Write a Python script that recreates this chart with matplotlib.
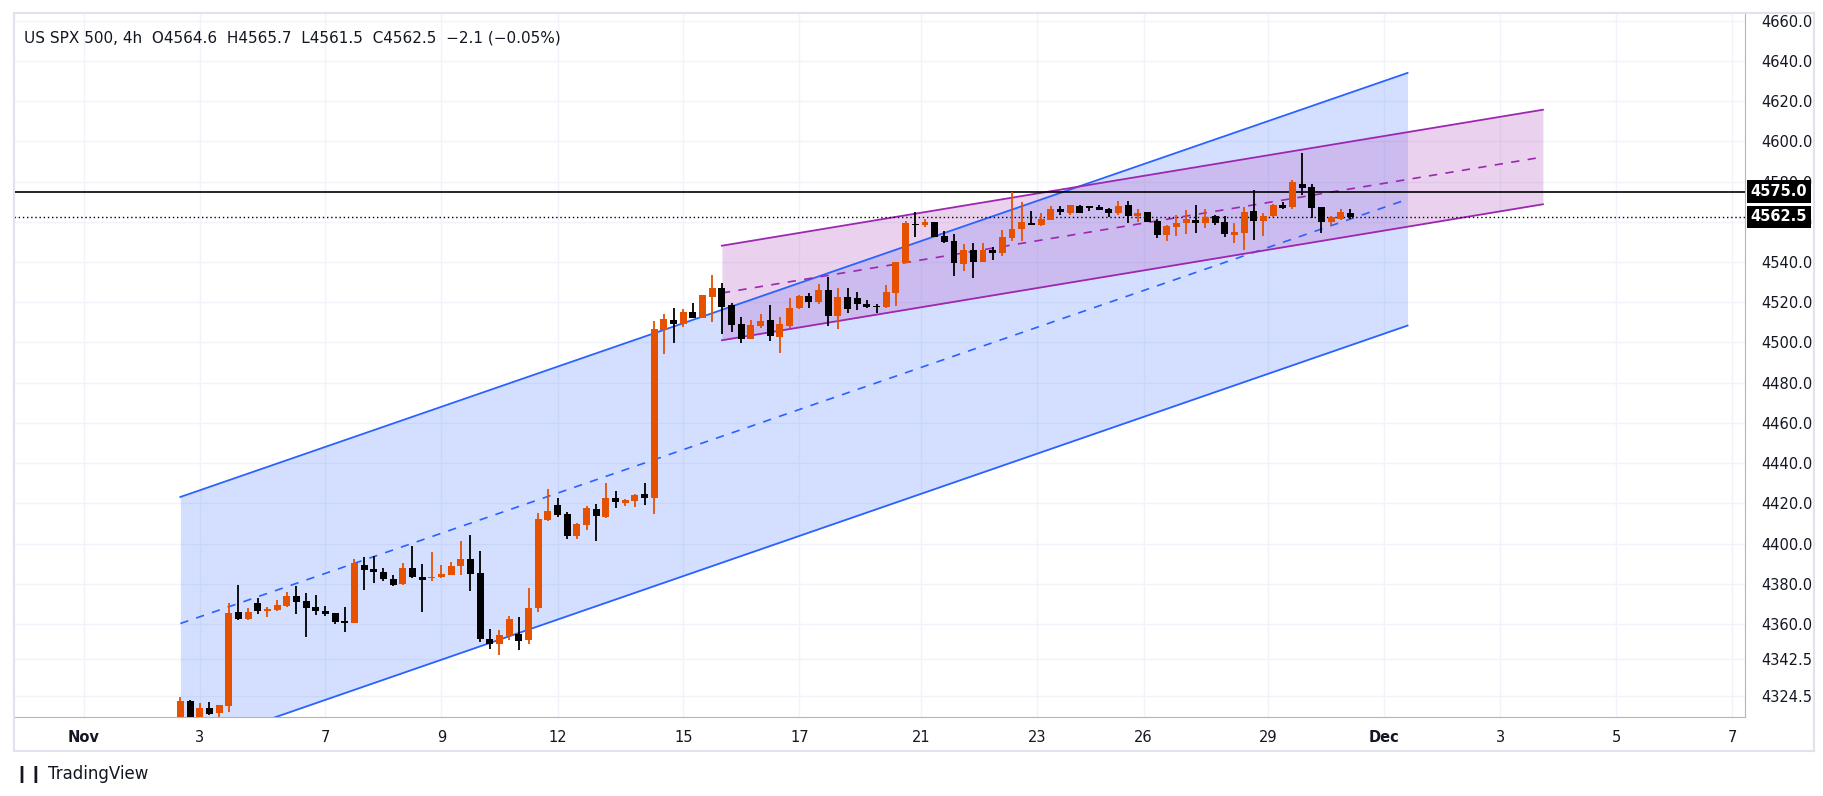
import numpy as np
import matplotlib
matplotlib.use("Agg")
from matplotlib import pyplot as plt
from matplotlib.lines import Line2D

# 4h bars, OHLC
opens = [4311.0, 4321.7, 4311.5, 4318.1, 4315.9, 4319.4, 4366.2, 4362.4, 4370.7, 4366.4,
         4367.2, 4369.0, 4374.2, 4371.7, 4368.7, 4366.7, 4365.3, 4361.4, 4360.5, 4389.5,
         4387.5, 4386.0, 4382.6, 4380.1, 4388.0, 4383.6, 4382.7, 4383.2, 4384.6, 4388.7,
         4392.5, 4385.2, 4352.5, 4350.0, 4354.1, 4355.3, 4352.1, 4367.9, 4411.8, 4419.2,
         4414.8, 4403.9, 4409.5, 4417.2, 4413.3, 4422.7, 4420.4, 4421.2, 4424.7, 4422.7,
         4506.3, 4511.3, 4509.3, 4515.2, 4512.3, 4522.7, 4527.1, 4518.7, 4509.3, 4501.9,
         4508.3, 4511.3, 4502.9, 4508.3, 4516.9, 4523.2, 4519.9, 4526.1, 4513.4, 4522.5,
         4522.0, 4519.2, 4518.2, 4517.4, 4524.8, 4539.5, 4558.8, 4558.5, 4559.8, 4552.7,
         4550.4, 4539.2, 4546.0, 4540.2, 4546.0, 4544.4, 4552.1, 4556.5, 4559.2, 4558.3,
         4561.0, 4566.2, 4564.4, 4567.9, 4567.7, 4567.2, 4566.2, 4564.4, 4568.2, 4562.9,
         4564.7, 4560.3, 4553.5, 4557.5, 4559.3, 4560.8, 4559.5, 4562.8, 4559.8, 4553.5,
         4554.5, 4565.2, 4560.5, 4562.8, 4568.2, 4567.4, 4578.9, 4577.1, 4567.2, 4559.8,
         4561.3, 4564.6]
highs = [4323.8, 4322.5, 4320.9, 4321.2, 4319.7, 4370.7, 4379.6, 4368.0, 4373.0, 4368.7,
         4372.2, 4376.1, 4379.1, 4375.6, 4374.7, 4369.0, 4365.6, 4368.7, 4392.5, 4393.5,
         4394.1, 4388.0, 4384.6, 4390.2, 4398.9, 4389.7, 4396.0, 4389.5, 4391.0, 4401.2,
         4404.4, 4396.4, 4357.7, 4357.0, 4364.0, 4363.4, 4377.7, 4415.1, 4427.1, 4422.7,
         4415.7, 4410.3, 4418.7, 4419.9, 4430.1, 4426.1, 4422.2, 4424.7, 4430.1, 4510.8,
         4514.3, 4517.2, 4516.7, 4519.7, 4523.7, 4533.6, 4529.6, 4519.7, 4512.8, 4511.3,
         4514.3, 4518.7, 4512.8, 4522.2, 4523.7, 4524.4, 4529.1, 4532.6, 4527.1, 4527.1,
         4525.1, 4521.2, 4519.2, 4528.6, 4540.0, 4560.5, 4564.8, 4561.3, 4560.1, 4555.2,
         4553.9, 4548.9, 4549.4, 4549.4, 4547.5, 4555.8, 4575.0, 4570.0, 4565.2, 4564.3,
         4567.7, 4567.7, 4568.2, 4568.4, 4567.7, 4568.2, 4567.0, 4570.2, 4570.2, 4566.2,
         4564.7, 4561.4, 4558.3, 4563.3, 4565.7, 4568.2, 4566.2, 4563.3, 4562.8, 4559.5,
         4567.2, 4575.6, 4564.3, 4568.7, 4569.7, 4580.6, 4594.4, 4578.9, 4567.2, 4562.8,
         4566.2, 4566.2]
lows = [4309.0, 4308.0, 4309.0, 4314.9, 4313.9, 4316.4, 4362.1, 4362.0, 4364.9, 4363.4,
        4366.4, 4368.7, 4364.9, 4353.5, 4364.4, 4363.8, 4360.1, 4356.0, 4360.3, 4376.8,
        4380.3, 4381.3, 4378.8, 4379.3, 4382.8, 4365.9, 4381.3, 4382.8, 4384.4, 4384.6,
        4376.3, 4351.0, 4347.8, 4344.5, 4352.0, 4347.0, 4350.0, 4366.0, 4411.5, 4413.3,
        4402.5, 4402.5, 4406.7, 4401.1, 4412.5, 4417.9, 4418.9, 4418.4, 4419.4, 4414.9,
        4494.1, 4499.6, 4507.5, 4512.0, 4512.0, 4510.3, 4504.4, 4505.3, 4499.9, 4501.5,
        4507.3, 4500.9, 4495.0, 4507.3, 4516.7, 4517.2, 4518.9, 4508.0, 4506.5, 4514.9,
        4515.9, 4517.2, 4514.9, 4517.2, 4518.2, 4539.5, 4552.5, 4557.3, 4552.5, 4549.4,
        4533.2, 4535.7, 4532.2, 4540.0, 4541.1, 4543.1, 4550.6, 4550.6, 4558.6, 4558.0,
        4560.8, 4563.4, 4563.4, 4564.4, 4565.2, 4565.9, 4562.4, 4563.4, 4559.5, 4559.8,
        4559.8, 4552.0, 4550.6, 4552.9, 4554.0, 4554.5, 4556.8, 4558.5, 4552.5, 4549.6,
        4546.1, 4551.0, 4553.0, 4562.5, 4566.2, 4566.2, 4573.3, 4561.8, 4554.5, 4558.0,
        4561.0, 4561.5]
closes = [4321.7, 4311.5, 4318.2, 4315.4, 4319.7, 4365.7, 4362.4, 4366.2, 4366.4, 4367.7,
          4369.7, 4374.2, 4370.9, 4367.9, 4366.4, 4364.9, 4361.0, 4360.6, 4390.2, 4386.9,
          4385.7, 4382.2, 4379.3, 4388.0, 4383.2, 4382.1, 4383.6, 4385.0, 4389.0, 4392.5,
          4384.7, 4352.5, 4349.9, 4354.6, 4362.6, 4351.6, 4368.2, 4412.4, 4416.2, 4414.3,
          4403.9, 4409.8, 4417.7, 4413.8, 4422.7, 4420.9, 4421.7, 4424.2, 4422.7, 4506.8,
          4511.8, 4509.3, 4515.2, 4512.3, 4523.7, 4527.1, 4517.7, 4508.8, 4501.9, 4508.8,
          4510.8, 4503.4, 4509.3, 4517.2, 4523.2, 4519.9, 4526.1, 4513.4, 4522.5, 4516.4,
          4518.9, 4517.4, 4517.4, 4525.1, 4540.0, 4559.5, 4558.5, 4559.8, 4552.5, 4550.1,
          4539.7, 4546.0, 4540.2, 4546.1, 4544.4, 4552.4, 4556.3, 4559.8, 4558.6, 4561.3,
          4566.2, 4564.9, 4568.2, 4564.4, 4566.9, 4565.9, 4564.4, 4567.7, 4562.9, 4564.4,
          4559.8, 4553.5, 4558.0, 4559.3, 4561.3, 4559.5, 4562.3, 4559.5, 4554.0, 4555.0,
          4564.7, 4560.5, 4562.8, 4568.2, 4566.7, 4579.6, 4576.6, 4566.7, 4559.8, 4562.3,
          4564.7, 4562.5]

# date ticks (bar index positions) and labels
date_ticks = [-10, 2, 15, 27, 39, 52, 64, 76.6, 88.6, 99.6, 112.5, 124.5, 136.5, 148.5, 160.5]
date_labels = ['Nov', '3', '7', '9', '12', '15', '17', '21', '23', '26', '29', 'Dec', '3', '5', '7']
price_ticks = [4324.5, 4342.5, 4360, 4380, 4400, 4420, 4440, 4460, 4480, 4500, 4520,
               4540, 4560, 4580, 4600, 4620, 4640, 4660]

# channels: (start idx, end idx, upper start, upper end, lower start, lower end)
blue_channel = [0, 126.9, 4423.2, 4634.0, 4297.4, 4508.4]
purple_channel = [56.0, 140.9, 4548.1, 4615.7, 4501.1, 4568.7]

resistance = 4575.0
last_price = 4562.5

UP = '#e65100'
DOWN = '#000000'
TXT = '#131722'

fig = plt.figure(figsize=(18.24, 7.96), dpi=100)
ax = fig.add_axes([0.0077, 0.0992, 0.949, 0.885])
ax.set_xlim(-17.2, 161.8)
ax.set_ylim(4313.8, 4664.0)

for t in price_ticks:
    ax.axhline(t, color='#f0f3fa', lw=1, zorder=0)
for t in date_ticks:
    ax.axvline(t, color='#f0f3fa', lw=1, zorder=0)


def draw_channel(ch, line_c, fill_c, fill_a):
    x0, x1, u0, u1, l0, l1 = ch
    xs = [x0, x1]
    up = [u0, u1]
    lo = [l0, l1]
    mid = [(u0 + l0) / 2, (u1 + l1) / 2]
    ax.fill_between(xs, lo, up, color=fill_c, alpha=fill_a, lw=0, zorder=1)
    ax.plot(xs, up, color=line_c, lw=1.3, zorder=2)
    ax.plot(xs, lo, color=line_c, lw=1.3, zorder=2)
    ax.plot(xs, mid, color=line_c, lw=1.2, ls=(0, (5, 5)), zorder=2)


draw_channel(blue_channel, '#2962ff', '#2962ff', 0.2)
draw_channel(purple_channel, '#9c27b0', '#ba68c8', 0.3)

ax.axhline(resistance, color='#000000', lw=1.2, zorder=3)
ax.axhline(last_price, color='#000000', lw=1, ls=(0, (1, 2)), zorder=3)

idx = np.arange(len(opens))
o = np.array(opens)
c = np.array(closes)
colors = [UP if cc >= oo else DOWN for oo, cc in zip(o, c)]
ax.vlines(idx, lows, highs, colors=colors, lw=1.3, zorder=4)
bottoms = np.minimum(o, c)
heights = np.maximum(np.abs(c - o), 0.6)
ax.bar(idx, heights, bottom=bottoms, width=0.72, color=colors, lw=0, zorder=5)

ax.yaxis.tick_right()
ax.set_yticks(price_ticks)
ax.set_yticklabels(['%.1f' % t for t in price_ticks], fontsize=10.5, color=TXT)
ax.set_xticks(date_ticks)
ax.set_xticklabels(date_labels, fontsize=10.5, color=TXT)
for lab in ax.get_xticklabels():
    if lab.get_text() in ('Nov', 'Dec'):
        lab.set_fontweight('bold')
ax.tick_params(axis='both', length=0, pad=9)
ax.tick_params(axis='y', pad=12)
for s in ['top', 'left']:
    ax.spines[s].set_visible(False)
for s in ['right', 'bottom']:
    ax.spines[s].set_color('#b2b5be')

for val in [resistance, last_price]:
    ax.annotate('%.1f' % val, xy=(1.0, val), xycoords=('axes fraction', 'data'),
                xytext=(4, 0), textcoords='offset points', ha='left', va='center',
                fontsize=10.5, fontweight='bold', color='white', zorder=10,
                bbox=dict(boxstyle='square,pad=0.25', fc='#000000', ec='none'),
                annotation_clip=False)

ax.text(0.006, 0.975, 'US SPX 500, 4h  O4564.6  H4565.7  L4561.5  C4562.5  \u22122.1 (\u22120.05%)',
        transform=ax.transAxes, ha='left', va='top', fontsize=11, color=TXT)

# outer frame of the chart widget
fig.add_artist(Line2D([0.0077, 0.9945], [0.056, 0.056], color='#e0e3eb', lw=1.5))
fig.add_artist(Line2D([0.9945, 0.9945], [0.056, 0.984], color='#e0e3eb', lw=1.5))
fig.add_artist(Line2D([0.0077, 0.9945], [0.984, 0.984], color='#e0e3eb', lw=1.5))
fig.add_artist(Line2D([0.0077, 0.0077], [0.056, 0.984], color='#e0e3eb', lw=1.5))
fig.text(0.008, 0.028, '\u2759\u2759 TradingView', fontsize=12, color=TXT, va='center')

fig.savefig('out.png', dpi=100)
